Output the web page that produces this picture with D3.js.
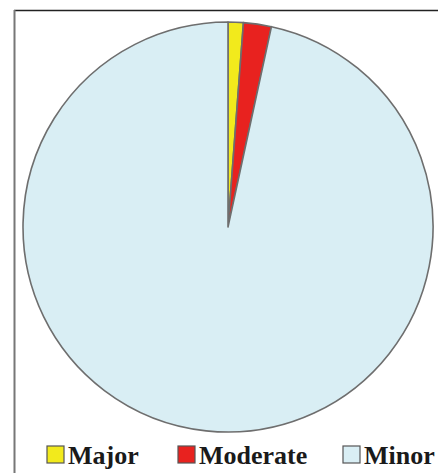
<!DOCTYPE html>
<html>
<head>
<meta charset="utf-8">
<script src="https://cdn.jsdelivr.net/npm/d3@7"></script>
<style>
  html, body { margin:0; padding:0; background:#fff; }
  svg { display:block; }
  .leg-label { font-family: 'Times New Roman', 'Liberation Serif', 'DejaVu Serif', serif; font-weight: bold; }
</style>
</head>
<body>
<svg id="chart" width="438" height="473"></svg>
<script>
// Severity share (%)
const categories = ['Major', 'Moderate', 'Minor'];
const values = [1.2, 2.2, 96.6];
const colors = ['#f2ea1c', '#e8221f', '#d9eef4'];

const svg = d3.select('#chart');
const W = 438, H = 473;

// frame lines (top + left only, as in the scan)
svg.append('line').attr('x1', 14).attr('y1', 10.5).attr('x2', W).attr('y2', 10.5)
  .attr('stroke', '#222').attr('stroke-width', 1.5);
svg.append('line').attr('x1', 14.5).attr('y1', 10).attr('x2', 14.5).attr('y2', H)
  .attr('stroke', '#777').attr('stroke-width', 2);

const data = categories.map((c, i) => ({ cat:c, val:values[i], color:colors[i] }));

const cx = 228, cy = 227, r = 205;
const pie = d3.pie().sort(null).value(d => d.val);
const arc = d3.arc().innerRadius(0).outerRadius(r);

const g = svg.append('g').attr('transform', `translate(${cx},${cy})`);
g.selectAll('path')
  .data(pie(data))
  .join('path')
  .attr('d', arc)
  .attr('fill', d => d.data.color)
  .attr('stroke', '#6e6e6e')
  .attr('stroke-width', 1.6)
  .attr('stroke-linejoin', 'round');

// legend
const legendX = [47, 178, 343];
const leg = svg.append('g');
data.forEach((d, i) => {
  leg.append('rect')
    .attr('x', legendX[i]).attr('y', 446)
    .attr('width', 17).attr('height', 17)
    .attr('fill', d.color)
    .attr('stroke', '#555').attr('stroke-width', 1.2);
  leg.append('text')
    .attr('class', 'leg-label')
    .attr('x', legendX[i] + 21).attr('y', 464)
    .attr('font-size', 26)
    .attr('fill', '#1a1a1a')
    .text(d.cat);
});
</script>
</body>
</html>
